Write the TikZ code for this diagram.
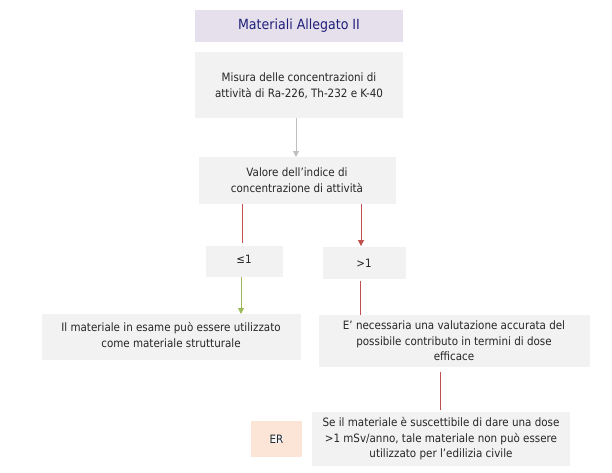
\documentclass[tikz,border=0pt]{standalone}
\usepackage{fontspec}
\setmainfont{DejaVu Sans Condensed}
\usetikzlibrary{arrows.meta}
\definecolor{boxgray}{HTML}{F2F2F2}
\definecolor{lav}{HTML}{E6E0EC}
\definecolor{peach}{HTML}{FCE4D6}
\definecolor{rl}{HTML}{C0504D}
\definecolor{gl}{HTML}{9BBB59}
\definecolor{gr}{HTML}{BFBFBF}
\definecolor{navy}{HTML}{1F1F7A}
\begin{document}
\begin{tikzpicture}[x=1pt,y=-1pt,
  bx/.style={fill=boxgray,inner sep=0,align=center,font=\fontsize{11.5}{15.5}\selectfont,text=black!85},
  tip/.style={-{Triangle[length=6pt,width=6pt]}}]
\useasboundingbox (0,0) rectangle (612,472);
\fill[lav] (195,10) rectangle (403,42);
\node[navy,font=\fontsize{14}{16}\selectfont] (t) at (299,26) {Materiali Allegato II};
\fill[boxgray] (195,52) rectangle (403,118);
\node[bx] (m) at (299,86) {Misura delle concentrazioni di\\attività di Ra-226, Th-232 e K-40};
\fill[boxgray] (199,157) rectangle (396,204);
\node[bx] (v) at (297,180) {Valore dell’indice di\\concentrazione di attività};
\fill[boxgray] (206,246) rectangle (283,277);
\node[bx] (le) at (244,259) {≤1};
\fill[boxgray] (323,247) rectangle (406,279);
\node[bx] (gt) at (364,263) {>1};
\fill[boxgray] (42,314) rectangle (301,360);
\node[bx] (l) at (171,335) {Il materiale in esame può essere utilizzato\\come materiale strutturale};
\fill[boxgray] (319,315) rectangle (590,367);
\node[bx] (r) at (454,341) {E’ necessaria una valutazione accurata del\\possibile contributo in termini di dose\\efficace};
\fill[boxgray] (312,412) rectangle (570,466);
\node[bx] (b) at (441,439) {Se il materiale è suscettibile di dare una dose\\>1 mSv/anno, tale materiale non può essere\\utilizzato per l’edilizia civile};
\fill[peach] (251,421) rectangle (302,457);
\node[bx] (er) at (276.5,439) {ER};
\coordinate (a1) at (296,118); \coordinate (a2) at (296,157);
\draw[gr,tip,line width=1pt] (a1) -- (a2);
\coordinate (b1) at (242,204); \coordinate (b2) at (242,243);
\draw[rl,line width=1pt] (b1) -- (b2);
\coordinate (c1) at (361,204); \coordinate (c2) at (361,246);
\draw[rl,tip,line width=1pt] (c1) -- (c2);
\coordinate (d1) at (241,277); \coordinate (d2) at (241,314);
\draw[gl,tip,line width=1pt] (d1) -- (d2);
\coordinate (e1) at (360,281); \coordinate (e2) at (360,315);
\draw[rl,line width=1pt] (e1) -- (e2);
\coordinate (f1) at (440,372); \coordinate (f2) at (440,410);
\draw[rl,line width=1pt] (f1) -- (f2);
\end{tikzpicture}
\end{document}
